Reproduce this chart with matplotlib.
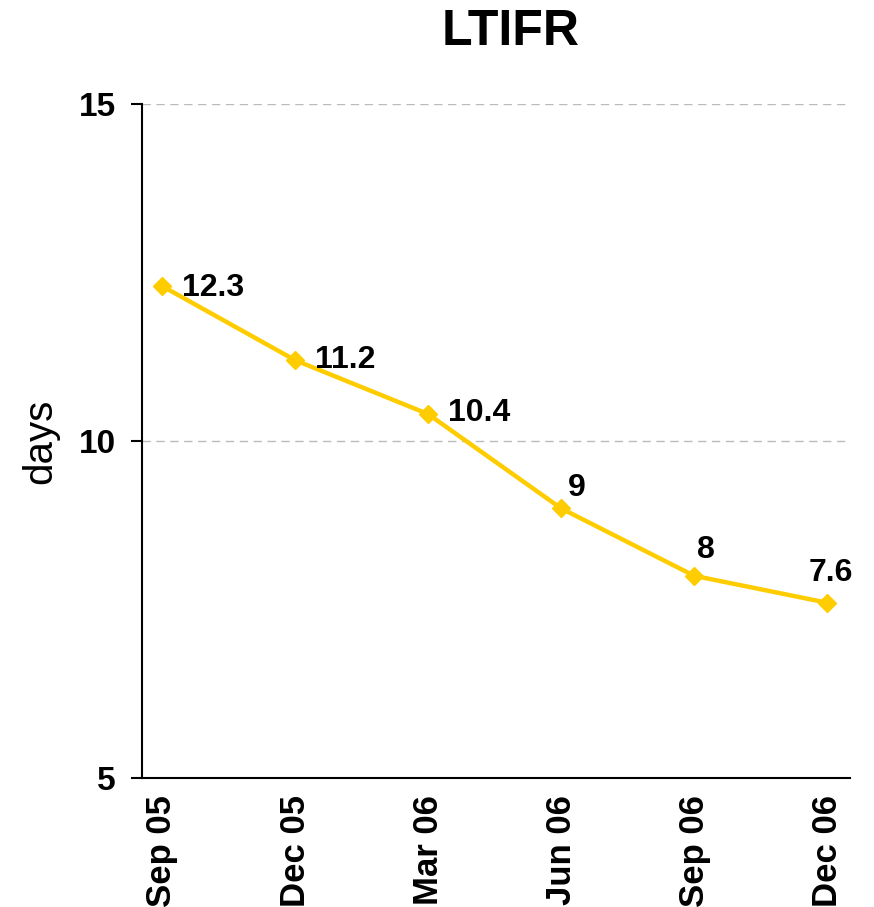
import matplotlib.pyplot as plt

plt.rcParams['font.family'] = ['Liberation Sans', 'DejaVu Sans']

periods = ["Sep 05", "Dec 05", "Mar 06", "Jun 06", "Sep 06", "Dec 06"]
ltifr = [12.3, 11.2, 10.4, 9, 8, 7.6]
value_labels = ["12.3", "11.2", "10.4", "9", "8", "7.6"]
# label offsets (pixels) and alignment per point
label_offsets = [(20, -2, 'left'), (20, 0, 'left'), (20, 1, 'left'),
                 (7, 20, 'left'), (3, 26, 'left'), (3, 30, 'center')]

fig = plt.figure(figsize=(8.74, 9.07), dpi=100)
ax = fig.add_axes([0.1625, 0.1422, 0.81, 0.7431])

xs = list(range(len(periods)))
ax.plot(xs, ltifr, color="#FFCC00", linewidth=3.2, marker="D", markersize=9, zorder=3)

for x, y, lab, (dx, dy, ha) in zip(xs, ltifr, value_labels, label_offsets):
    ax.annotate(lab, (x, y), xytext=(dx, dy), textcoords="offset pixels",
                ha=ha, va="center", fontsize=23, fontweight="bold")

ax.set_xlim(-0.15, 5.17)
ax.set_ylim(5, 15)
ax.set_yticks([5, 10, 15])
ax.set_yticklabels(["5", "10", "15"], fontsize=24, fontweight="bold")
ax.set_xticks(xs)
ax.set_xticklabels(periods, rotation=90, fontsize=25, fontweight="bold")
ax.tick_params(axis="x", length=0, pad=12)
ax.tick_params(axis="y", length=8, width=1.5, pad=11)

ax.grid(axis="y", linestyle=(0, (6, 4)), color="#bbbbbb", linewidth=1)
ax.set_axisbelow(True)
for s in ["top", "right"]:
    ax.spines[s].set_visible(False)
ax.spines["left"].set_linewidth(1.5)
ax.spines["bottom"].set_linewidth(1.5)

ax.set_ylabel("days", fontsize=29, labelpad=14)
fig.text(0.584, 0.965, "LTIFR", ha="center", va="center", fontsize=36, fontweight="bold")

fig.savefig("out.png", dpi=100)
